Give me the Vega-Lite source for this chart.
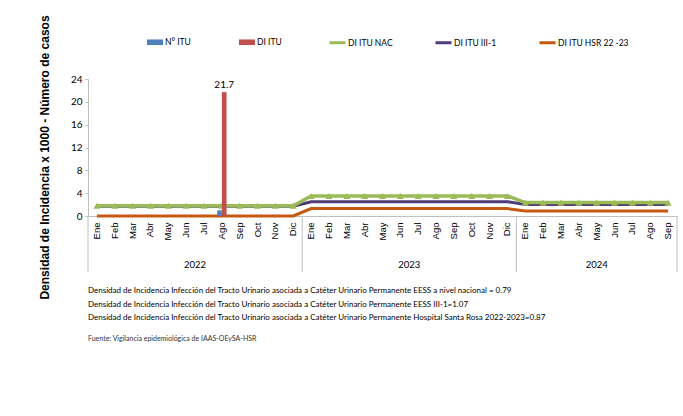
{
  "$schema": "https://vega.github.io/schema/vega-lite/v6.json",
  "width": 589,
  "height": 137,
  "padding": {"left": 38, "top": 14, "right": 0, "bottom": 0},
  "background": "white",
  "config": {"view": {"stroke": null}, "font": "Liberation Sans", "axisY": {"labelOverlap": false}},
  "datasets": {
    "lines": [
      {"k":"2022|01|Ene","s":"DI ITU NAC","v":1.8},{"k":"2022|02|Feb","s":"DI ITU NAC","v":1.8},{"k":"2022|03|Mar","s":"DI ITU NAC","v":1.8},{"k":"2022|04|Abr","s":"DI ITU NAC","v":1.8},{"k":"2022|05|May","s":"DI ITU NAC","v":1.8},{"k":"2022|06|Jun","s":"DI ITU NAC","v":1.8},{"k":"2022|07|Jul","s":"DI ITU NAC","v":1.8},{"k":"2022|08|Ago","s":"DI ITU NAC","v":1.8},{"k":"2022|09|Sep","s":"DI ITU NAC","v":1.8},{"k":"2022|10|Oct","s":"DI ITU NAC","v":1.8},{"k":"2022|11|Nov","s":"DI ITU NAC","v":1.8},{"k":"2022|12|Dic","s":"DI ITU NAC","v":1.8},
      {"k":"2023|01|Ene","s":"DI ITU NAC","v":3.5},{"k":"2023|02|Feb","s":"DI ITU NAC","v":3.5},{"k":"2023|03|Mar","s":"DI ITU NAC","v":3.5},{"k":"2023|04|Abr","s":"DI ITU NAC","v":3.5},{"k":"2023|05|May","s":"DI ITU NAC","v":3.5},{"k":"2023|06|Jun","s":"DI ITU NAC","v":3.5},{"k":"2023|07|Jul","s":"DI ITU NAC","v":3.5},{"k":"2023|08|Ago","s":"DI ITU NAC","v":3.5},{"k":"2023|09|Sep","s":"DI ITU NAC","v":3.5},{"k":"2023|10|Oct","s":"DI ITU NAC","v":3.5},{"k":"2023|11|Nov","s":"DI ITU NAC","v":3.5},{"k":"2023|12|Dic","s":"DI ITU NAC","v":3.5},
      {"k":"2024|01|Ene","s":"DI ITU NAC","v":2.35},{"k":"2024|02|Feb","s":"DI ITU NAC","v":2.35},{"k":"2024|03|Mar","s":"DI ITU NAC","v":2.35},{"k":"2024|04|Abr","s":"DI ITU NAC","v":2.35},{"k":"2024|05|May","s":"DI ITU NAC","v":2.35},{"k":"2024|06|Jun","s":"DI ITU NAC","v":2.35},{"k":"2024|07|Jul","s":"DI ITU NAC","v":2.35},{"k":"2024|08|Ago","s":"DI ITU NAC","v":2.35},{"k":"2024|09|Sep","s":"DI ITU NAC","v":2.35},
      {"k":"2022|01|Ene","s":"DI ITU III-1","v":1.7},{"k":"2022|02|Feb","s":"DI ITU III-1","v":1.7},{"k":"2022|03|Mar","s":"DI ITU III-1","v":1.7},{"k":"2022|04|Abr","s":"DI ITU III-1","v":1.7},{"k":"2022|05|May","s":"DI ITU III-1","v":1.7},{"k":"2022|06|Jun","s":"DI ITU III-1","v":1.7},{"k":"2022|07|Jul","s":"DI ITU III-1","v":1.7},{"k":"2022|08|Ago","s":"DI ITU III-1","v":1.7},{"k":"2022|09|Sep","s":"DI ITU III-1","v":1.7},{"k":"2022|10|Oct","s":"DI ITU III-1","v":1.7},{"k":"2022|11|Nov","s":"DI ITU III-1","v":1.7},{"k":"2022|12|Dic","s":"DI ITU III-1","v":1.7},
      {"k":"2023|01|Ene","s":"DI ITU III-1","v":2.5},{"k":"2023|02|Feb","s":"DI ITU III-1","v":2.5},{"k":"2023|03|Mar","s":"DI ITU III-1","v":2.5},{"k":"2023|04|Abr","s":"DI ITU III-1","v":2.5},{"k":"2023|05|May","s":"DI ITU III-1","v":2.5},{"k":"2023|06|Jun","s":"DI ITU III-1","v":2.5},{"k":"2023|07|Jul","s":"DI ITU III-1","v":2.5},{"k":"2023|08|Ago","s":"DI ITU III-1","v":2.5},{"k":"2023|09|Sep","s":"DI ITU III-1","v":2.5},{"k":"2023|10|Oct","s":"DI ITU III-1","v":2.5},{"k":"2023|11|Nov","s":"DI ITU III-1","v":2.5},{"k":"2023|12|Dic","s":"DI ITU III-1","v":2.5},
      {"k":"2024|01|Ene","s":"DI ITU III-1","v":2.0},{"k":"2024|02|Feb","s":"DI ITU III-1","v":2.0},{"k":"2024|03|Mar","s":"DI ITU III-1","v":2.0},{"k":"2024|04|Abr","s":"DI ITU III-1","v":2.0},{"k":"2024|05|May","s":"DI ITU III-1","v":2.0},{"k":"2024|06|Jun","s":"DI ITU III-1","v":2.0},{"k":"2024|07|Jul","s":"DI ITU III-1","v":2.0},{"k":"2024|08|Ago","s":"DI ITU III-1","v":2.0},{"k":"2024|09|Sep","s":"DI ITU III-1","v":2.0},
      {"k":"2022|01|Ene","s":"DI ITU HSR 22 -23","v":0},{"k":"2022|02|Feb","s":"DI ITU HSR 22 -23","v":0},{"k":"2022|03|Mar","s":"DI ITU HSR 22 -23","v":0},{"k":"2022|04|Abr","s":"DI ITU HSR 22 -23","v":0},{"k":"2022|05|May","s":"DI ITU HSR 22 -23","v":0},{"k":"2022|06|Jun","s":"DI ITU HSR 22 -23","v":0},{"k":"2022|07|Jul","s":"DI ITU HSR 22 -23","v":0},{"k":"2022|08|Ago","s":"DI ITU HSR 22 -23","v":0},{"k":"2022|09|Sep","s":"DI ITU HSR 22 -23","v":0},{"k":"2022|10|Oct","s":"DI ITU HSR 22 -23","v":0},{"k":"2022|11|Nov","s":"DI ITU HSR 22 -23","v":0},{"k":"2022|12|Dic","s":"DI ITU HSR 22 -23","v":0},
      {"k":"2023|01|Ene","s":"DI ITU HSR 22 -23","v":1.3},{"k":"2023|02|Feb","s":"DI ITU HSR 22 -23","v":1.3},{"k":"2023|03|Mar","s":"DI ITU HSR 22 -23","v":1.3},{"k":"2023|04|Abr","s":"DI ITU HSR 22 -23","v":1.3},{"k":"2023|05|May","s":"DI ITU HSR 22 -23","v":1.3},{"k":"2023|06|Jun","s":"DI ITU HSR 22 -23","v":1.3},{"k":"2023|07|Jul","s":"DI ITU HSR 22 -23","v":1.3},{"k":"2023|08|Ago","s":"DI ITU HSR 22 -23","v":1.3},{"k":"2023|09|Sep","s":"DI ITU HSR 22 -23","v":1.3},{"k":"2023|10|Oct","s":"DI ITU HSR 22 -23","v":1.3},{"k":"2023|11|Nov","s":"DI ITU HSR 22 -23","v":1.3},{"k":"2023|12|Dic","s":"DI ITU HSR 22 -23","v":1.3},
      {"k":"2024|01|Ene","s":"DI ITU HSR 22 -23","v":0.87},{"k":"2024|02|Feb","s":"DI ITU HSR 22 -23","v":0.87},{"k":"2024|03|Mar","s":"DI ITU HSR 22 -23","v":0.87},{"k":"2024|04|Abr","s":"DI ITU HSR 22 -23","v":0.87},{"k":"2024|05|May","s":"DI ITU HSR 22 -23","v":0.87},{"k":"2024|06|Jun","s":"DI ITU HSR 22 -23","v":0.87},{"k":"2024|07|Jul","s":"DI ITU HSR 22 -23","v":0.87},{"k":"2024|08|Ago","s":"DI ITU HSR 22 -23","v":0.87},{"k":"2024|09|Sep","s":"DI ITU HSR 22 -23","v":0.87}
    ],
    "bars": [
      {"k":"2022|08|Ago","s":"N° ITU","v":1},
      {"k":"2022|08|Ago","s":"DI ITU","v":21.7}
    ],
    "years": [
      {"k":"2022|07|Jul","year":"2022"},
      {"k":"2023|07|Jul","year":"2023"},
      {"k":"2024|05|May","year":"2024"}
    ]
  },
  "layer": [
    {
      "data": {"name": "lines"},
      "transform": [{"filter": "datum.s != 'DI ITU NAC'"}],
      "mark": {"type": "line", "strokeWidth": 3},
      "encoding": {
        "x": {
          "field": "k", "type": "nominal", "sort": "ascending",
          "scale": {"paddingInner": 0, "paddingOuter": 0},
          "axis": {
            "title": null, "labelAngle": 270, "labelExpr": "split(datum.value,'|')[2]",
            "ticks": false, "domainColor": "#bfbfbf", "labelFontSize": 9.5, "labelPadding": 6,
            "labelColor": "#000", "grid": false, "labelFont": "Liberation Sans"
          }
        },
        "y": {
          "field": "v", "type": "quantitative",
          "scale": {"domain": [0, 24], "nice": false},
          "axis": {
            "values": [0, 4, 8, 12, 16, 20, 24], "tickCount": 7, "labelOverlap": false,
            "title": "Densidad de Incidencia x 1000 - Número de casos",
            "titleFontWeight": "bold", "titleFontSize": 12, "titleColor": "#000", "titlePadding": 19, "titleY": 78,
            "grid": false, "domainColor": "#bfbfbf", "tickColor": "#bfbfbf", "tickSize": 3,
            "labelFont": "Lato", "labelFontSize": 10, "labelColor": "#000", "labelPadding": 3
          }
        },
        "stroke": {
          "field": "s", "type": "nominal",
          "scale": {"domain": ["DI ITU NAC", "DI ITU III-1", "DI ITU HSR 22 -23"], "range": ["#9bbb59", "#4e3b78", "#c65911"]},
          "legend": {
            "orient": "none", "legendX": 240, "legendY": -46, "direction": "horizontal", "title": null,
            "symbolType": "stroke", "symbolSize": 256, "symbolStrokeWidth": 3, "columnPadding": 36,
            "labelFont": "Lato", "labelFontSize": 8.5, "labelColor": "#000", "labelOffset": 1
          }
        }
      }
    },
    {
      "data": {"name": "lines"},
      "transform": [{"filter": "datum.s == 'DI ITU NAC'"}],
      "mark": {"type": "line", "strokeWidth": 3.5},
      "encoding": {
        "x": {"field": "k", "type": "nominal"},
        "y": {"field": "v", "type": "quantitative"},
        "stroke": {"field": "s", "type": "nominal"}
      }
    },
    {
      "data": {"name": "lines"},
      "transform": [{"filter": "datum.s == 'DI ITU NAC'"}],
      "mark": {"type": "point", "shape": "triangle-up", "filled": true, "size": 50, "color": "#9bbb59", "opacity": 1},
      "encoding": {
        "x": {"field": "k", "type": "nominal"},
        "y": {"field": "v", "type": "quantitative"}
      }
    },
    {
      "data": {"name": "bars"},
      "mark": {"type": "bar"},
      "encoding": {
        "x": {"field": "k", "type": "nominal"},
        "xOffset": {"field": "s", "type": "nominal", "scale": {"domain": ["N° ITU", "DI ITU"], "paddingInner": 0, "paddingOuter": 0.9}},
        "y": {"field": "v", "type": "quantitative"},
        "color": {
          "field": "s", "type": "nominal",
          "scale": {"domain": ["N° ITU", "DI ITU"], "range": ["#4f81bd", "#c0504d"]},
          "legend": {
            "orient": "none", "legendX": 58, "legendY": -46, "direction": "horizontal", "title": null,
            "symbolType": "M-1,-0.35H1V0.35H-1Z", "symbolSize": 256, "columnPadding": 47,
            "labelFont": "Lato", "labelFontSize": 8.5, "labelColor": "#000", "labelOffset": 1
          }
        }
      }
    },
    {
      "data": {"name": "bars"},
      "transform": [{"filter": "datum.s == 'DI ITU'"}],
      "mark": {"type": "text", "dy": -7, "font": "Lato", "fontSize": 10, "color": "#000"},
      "encoding": {
        "x": {"field": "k", "type": "nominal"},
        "xOffset": {"field": "s", "type": "nominal"},
        "y": {"field": "v", "type": "quantitative"},
        "text": {"field": "v", "type": "quantitative", "format": ".1f"}
      }
    },
    {
      "data": {"name": "lines"},
      "transform": [{"filter": "datum.s == 'DI ITU NAC' && slice(datum.k,5,7) == '01'"}],
      "mark": {"type": "rule", "color": "#bfbfbf", "strokeWidth": 1},
      "encoding": {
        "x": {"field": "k", "type": "nominal", "bandPosition": 0},
        "y": {"datum": 0},
        "y2": {"datum": -9.8}
      }
    },
    {
      "data": {"name": "lines"},
      "transform": [{"filter": "datum.s == 'DI ITU NAC' && datum.k == '2024|09|Sep'"}],
      "mark": {"type": "rule", "color": "#bfbfbf", "strokeWidth": 1},
      "encoding": {
        "x": {"field": "k", "type": "nominal", "bandPosition": 1},
        "y": {"datum": 0},
        "y2": {"datum": -9.8}
      }
    },
    {
      "data": {"name": "years"},
      "transform": [{"filter": "datum.year != '2024'"}],
      "mark": {"type": "text", "font": "Lato", "fontSize": 9.5, "color": "#000", "baseline": "middle", "align": "center"},
      "encoding": {
        "x": {"field": "k", "type": "nominal", "bandPosition": 0},
        "y": {"datum": -8.6},
        "text": {"field": "year", "type": "nominal"}
      }
    },
    {
      "data": {"name": "years"},
      "transform": [{"filter": "datum.year == '2024'"}],
      "mark": {"type": "text", "font": "Lato", "fontSize": 9.5, "color": "#000", "baseline": "middle", "align": "center"},
      "encoding": {
        "x": {"field": "k", "type": "nominal", "bandPosition": 0.5},
        "y": {"datum": -8.6},
        "text": {"field": "year", "type": "nominal"}
      }
    }
  ],
  "title": {
    "text": [
      "Densidad de Incidencia Infección del  Tracto Urinario asociada a Catéter Urinario Permanente  EESS a nivel nacional = 0.79",
      "Densidad de Incidencia Infección del  Tracto Urinario asociada a Catéter Urinario Permanente  EESS III-1=1.07",
      "Densidad de Incidencia Infección del  Tracto Urinario asociada a Catéter Urinario Permanente  Hospital Santa Rosa  2022-2023=0.87"
    ],
    "subtitle": "Fuente: Vigilancia epidemiológica de IAAS-OEySA-HSR",
    "orient": "bottom", "anchor": "start", "frame": "group",
    "font": "Lato", "fontSize": 8, "fontWeight": "normal", "color": "#000", "lineHeight": 13.5,
    "subtitleFont": "Lato", "subtitleFontSize": 7, "subtitleColor": "#333", "subtitlePadding": 13,
    "offset": -12
  }
}
